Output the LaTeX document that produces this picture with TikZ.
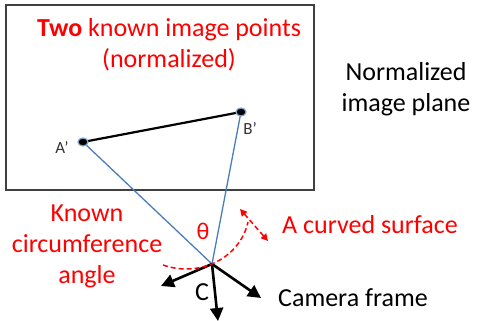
\documentclass[tikz,border=0pt]{standalone}
\usepackage{fontspec}
\setmainfont{Carlito}
\usetikzlibrary{arrows.meta,positioning,calc,shapes.geometric}

\definecolor{raycol}{RGB}{74,126,187}

\begin{document}
\begin{tikzpicture}[
  x=1pt, y=-1pt,
  % Text styles
  redtxt/.style={text=red, font=\fontsize{26}{31}\selectfont, align=center, inner sep=0pt},
  blktxt/.style={text=black, font=\fontsize{26}{31}\selectfont, align=center, inner sep=0pt},
  ptlbl/.style={text=black!80, font=\fontsize{17}{20}\selectfont, inner sep=0pt},
  % Point and line styles
  imgpt/.style={ellipse, fill=black, draw=raycol!70, line width=1.2pt, minimum width=10pt,
                minimum height=8pt, inner sep=0pt},
  ray/.style={draw=raycol, line width=1.3pt},
  axis/.style={-{Triangle[length=13pt, width=13pt]}, line width=2.6pt, black},
  arc/.style={red, dash pattern=on 5pt off 3pt, line width=1.5pt},
]
\useasboundingbox (0,0) rectangle (477,321);

% === Image plane ===
\node[draw=black!75, line width=1.5pt, minimum width=308pt, minimum height=185pt, inner sep=0pt]
  (plane) at (160,97.5) {};

% === Image points and camera centre ===
\coordinate (A) at (83,142);
\coordinate (B) at (241,112);
\coordinate (C) at (212,264);

\node[ptlbl] (Alab) at (62,148) {A’};
\node[ptlbl] (Blab) at (250,129) {B’};

% === Rays and segment ===
\draw[ray] (A) -- (C);
\draw[ray] (B) -- (C);
\draw[line width=2.2pt] (A) -- (B);
\node[imgpt] (Adot) at (A) {};
\node[imgpt] (Bdot) at (B) {};

% === Camera frame ===
\coordinate (xax) at (161,286);
\coordinate (yax) at (218,321);
\coordinate (zax) at (261,298);
\draw[axis] (C) -- (xax);
\draw[axis] (C) -- (yax);
\draw[axis] (C) -- (zax);

% === Curved surface ===
\coordinate (arcL) at (163,265);
\coordinate (arcR) at (248,222);
\draw[arc] (arcL) .. controls (200,278) and (240,258) .. (arcR);
\coordinate (dbl1) at (240,209);
\coordinate (dbl2) at (268,241);
\draw[arc, {Triangle[length=7pt,width=7pt]}-{Triangle[length=7pt,width=7pt]}] (dbl1) -- (dbl2);

% === Labels ===
\node[redtxt] (title) at (169,45) {\textbf{Two} known image points\\(normalized)};
\node[blktxt] (plbl) at (406,89) {Normalized\\image plane};
\node[redtxt] (angle) at (87,246) {Known\\circumference\\angle};
\node[redtxt, anchor=west] (surf) at (282,225) {A curved surface};
\node[redtxt, font=\fontsize{24}{28}\selectfont] (theta) at (203,231) {θ};
\node[blktxt] (Clab) at (202,292) {C};
\node[blktxt, anchor=west] (cam) at (278,298) {Camera frame};

\end{tikzpicture}
\end{document}
